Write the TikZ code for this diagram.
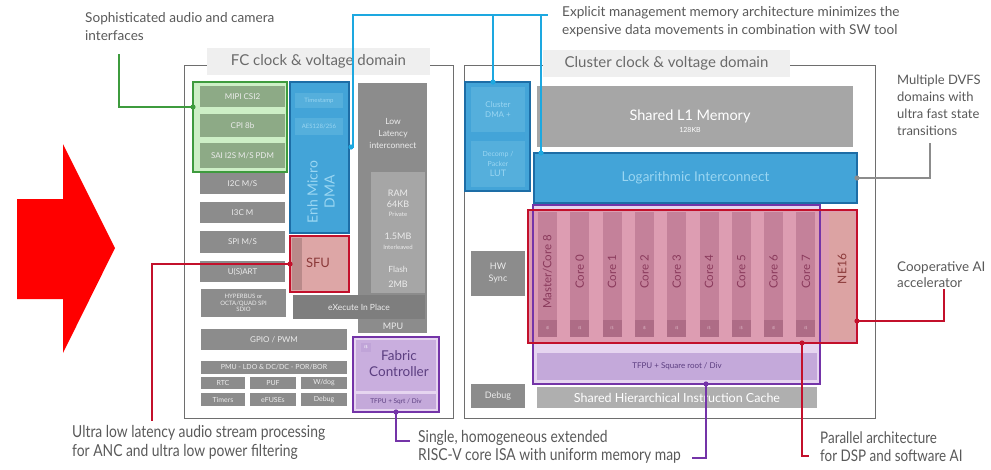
\documentclass[tikz,border=0pt]{standalone}
\usepackage{fontspec}
\setmainfont{Lato}
\newfontfamily\narrowfont[FakeStretch=0.84]{Lato}
\usetikzlibrary{calc}
\usetikzlibrary{positioning}

\definecolor{arrowred}{HTML}{FF0000}
\definecolor{notegray}{HTML}{595959}
\definecolor{domgray}{HTML}{6E6E6E}
\definecolor{titlebg}{HTML}{EFEFEF}
\definecolor{titletext}{HTML}{6A6A6A}
\definecolor{blkgray}{HTML}{8C8C8C}
\definecolor{blkgraydk}{HTML}{7E7E7E}
\definecolor{blkgraylt}{HTML}{A6A6A6}
\definecolor{blktext}{HTML}{ECECEC}
\definecolor{perigreen}{HTML}{3E9B3E}
\definecolor{perigreenlt}{HTML}{CDEFC6}
\definecolor{perigreenblk}{HTML}{8DAA86}
\definecolor{dmablue}{HTML}{43A4D8}
\definecolor{dmabluedk}{HTML}{1D6DA6}
\definecolor{dmablueblk}{HTML}{55AFDC}
\definecolor{dmatext}{HTML}{9AD6F2}
\definecolor{linkblue}{HTML}{1DA8E0}
\definecolor{accred}{HTML}{C3102B}
\definecolor{accpink}{HTML}{DD9DB2}
\definecolor{corepink}{HTML}{C4819A}
\definecolor{corepinkdk}{HTML}{AE6C86}
\definecolor{ne16pink}{HTML}{DCA3A3}
\definecolor{coretext}{HTML}{8A3A5C}
\definecolor{fcpurple}{HTML}{7434A8}
\definecolor{fcpurplelt}{HTML}{E6D5F0}
\definecolor{fcpurplemd}{HTML}{C9AEDE}
\definecolor{fpubar}{HTML}{C4A9DA}
\definecolor{fctext}{HTML}{5B3E80}
\definecolor{sfupink}{HTML}{DDA6A6}
\definecolor{sfustrip}{HTML}{B98A8A}
\definecolor{sfutext}{HTML}{8B3A3A}

\begin{document}
\begin{tikzpicture}[x=1pt, y=-1pt,
    wh/.style 2 args={minimum width=#1, minimum height=#2},
    blk/.style={anchor=north west, inner sep=0pt, outer sep=0pt, align=center},
    gray blk/.style={blk, fill=blkgray, text=blktext, font=\fontsize{8}{9}\selectfont},
    small blk/.style={blk, fill=blkgray, text=blktext, font=\fontsize{7}{8}\selectfont},
    green blk/.style={blk, fill=perigreenblk, text=blktext, font=\fontsize{8}{9}\selectfont},
    dma blk/.style={blk, fill=dmablueblk, text=dmatext, font=\fontsize{6}{7}\selectfont},
    dom title/.style={blk, fill=titlebg, text=titletext, font=\fontsize{15}{16}\selectfont},
    memtxt/.style={text=blktext, inner sep=0pt, font=\fontsize{8.5}{9}\selectfont},
    core/.style={blk, fill=corepink},
    core lbl/.style={rotate=90, inner sep=0pt, text=coretext, font=\fontsize{11.5}{12}\selectfont},
    note/.style={anchor=north west, inner sep=0pt, align=left, text=notegray, font=\fontsize{13.6}{18}\selectfont},
    low note/.style={note, font=\narrowfont\fontsize{16.5}{19}\selectfont},
    link/.style={line width=1.6pt},
  ]
  \useasboundingbox (0,0) rectangle (991,469);

  % Big red arrow
  \fill[arrowred] (17,199) -- (63,199) -- (63,144) -- (115,248) -- (63,353) -- (63,299) -- (17,299) -- cycle;

  % Voltage domains
  \node[blk, draw=domgray, line width=1pt, wh={269}{353}] (fcdom) at (184,65) {};
  \node[dom title, wh={223}{27}] (fctitle) at (207,48) {FC clock \& voltage domain};
  \node[blk, draw=domgray, line width=1pt, wh={411}{353}] (cldom) at (464,65) {};
  \node[dom title, wh={247}{27}] (cltitle) at (543,50) {Cluster clock \& voltage domain};

  % Peripherals
  \node[blk, fill=perigreenlt, draw=perigreen, line width=1.5pt, wh={94}{90}] (periph) at (193,82) {};
  \node[green blk, wh={85}{21}] (mipi) at (200,86) {MIPI CSI2};
  \node[green blk, wh={85}{23}] (cpi) at (200,114) {CPI 8b};
  \node[green blk, wh={85}{25}] (sai) at (200,143) {SAI I2S M/S PDM};
  \node[gray blk, wh={85}{21}] (i2c) at (200,173) {I2C M/S};
  \node[gray blk, wh={85}{21}] (i3c) at (200,202) {I3C M};
  \node[gray blk, wh={85}{22}] (spi) at (200,231) {SPI M/S};
  \node[gray blk, wh={85}{21}] (uart) at (200,261) {U(S)ART};
  \node[gray blk, wh={85}{28}, font=\fontsize{6}{6.5}\selectfont] (hyper) at (201,289) {HYPERBUS or\\OCTA/QUAD SPI\\SDIO};
  \node[gray blk, wh={146}{21}] (gpio) at (201,329) {GPIO / PWM};
  \node[small blk, wh={146}{13}] (pmu) at (201,361) {PMU - LDO \& DC/DC - POR/BOR};
  \node[small blk, wh={44}{12}] (rtc) at (201,377) {RTC};
  \node[small blk, wh={46}{12}] (puf) at (250,377) {PUF};
  \node[small blk, wh={46}{12}] (wdog) at (301,377) {W/dog};
  \node[small blk, wh={44}{13}] (timers) at (201,393) {Timers};
  \node[small blk, wh={46}{13}] (efuse) at (250,393) {eFUSEs};
  \node[small blk, wh={46}{13}] (fcdebug) at (301,393) {Debug};

  % Micro DMA
  \node[blk, fill=dmablue, draw=dmabluedk, line width=1.5pt, wh={59}{151}] (dma) at (290,82) {};
  \node[dma blk, wh={48}{15}] (tstamp) at (295,93) {Timestamp};
  \node[dma blk, wh={48}{17}] (aes) at (295,118) {AES128/256};
  \node[rotate=90, align=center, inner sep=0pt, text=dmatext, font=\fontsize{14}{17}\selectfont] (dmalbl) at (321,192) {Enh Micro\\DMA};

  % SFU
  \node[blk, fill=sfupink, draw=accred, line width=1.5pt, wh={59}{56}] (sfu) at (290,236) {};
  \fill[sfustrip] (292,238) rectangle (302,290);
  \node[text=sfutext, inner sep=0pt, font=\fontsize{13}{14}\selectfont] (sfulbl) at (318,263) {SFU};

  % L2 memory and interconnect
  \node[gray blk, wh={69}{250}] (llint) at (358,83) {};
  \node[memtxt, align=center, font=\fontsize{8.5}{12}\selectfont] (llintlbl) at (393,133) {Low\\Latency\\interconnect};
  \node[blk, fill=blkgraylt, wh={54}{121}] (mem) at (371,172) {};
  \node[memtxt, font=\fontsize{9}{10}\selectfont] (ram) at (398,193) {RAM};
  \node[memtxt, font=\fontsize{9}{10}\selectfont] (ramsz) at (398,204) {64KB};
  \node[memtxt, font=\fontsize{6}{7}\selectfont] (ramprv) at (398,214) {Private};
  \node[memtxt, font=\fontsize{9}{10}\selectfont] (l2sz) at (398,236) {1.5MB};
  \node[memtxt, font=\fontsize{6}{7}\selectfont] (l2il) at (398,247) {Interleaved};
  \node[memtxt, font=\fontsize{8.5}{10}\selectfont] (flash) at (398,269) {Flash};
  \node[memtxt, font=\fontsize{9}{10}\selectfont] (flashsz) at (398,284) {2MB};
  \node[gray blk, fill=blkgraydk, wh={132}{24}, font=\fontsize{8.5}{9}\selectfont] (xip) at (293,295) {eXecute In Place};
  \node[memtxt, font=\fontsize{9}{10}\selectfont] (mpu) at (393,326) {MPU};

  % Fabric controller
  \node[blk, fill=fcpurplelt, draw=fcpurple, line width=1.5pt, wh={86}{75}] (fabric) at (353,337) {};
  \node[blk, fill=fcpurplemd, wh={80}{51}] (fccore) at (356,340) {};
  \node[blk, fill=fcpurple!45, text=white, wh={10}{9}, font=\fontsize{4}{4}\selectfont] (fcicache) at (361,343) {i\$};
  \node[text=fctext, inner sep=0pt, align=center, font=\fontsize{13.5}{16}\selectfont] (fclbl) at (399,364) {Fabric\\Controller};
  \node[blk, fill=fpubar, text=fctext, wh={80}{15}, font=\fontsize{6.5}{7}\selectfont] (fcfpu) at (356,394) {TFPU + Sqrt / Div};

  % Cluster DMA
  \node[blk, fill=dmablue, draw=dmabluedk, line width=1.5pt, wh={65}{109}] (cdma) at (465,82) {};
  \node[dma blk, wh={54}{45}, font=\fontsize{8}{9.5}\selectfont] (cdmablk) at (471,87) {Cluster\\DMA +};
  \node[dma blk, wh={54}{46}, font=\fontsize{7}{10}\selectfont] (packer) at (471,141) {Decomp /\\Packer\\{\fontsize{9}{10}\selectfont LUT}};

  % Shared L1 and interconnect
  \node[blk, fill=blkgraylt, text=white, wh={316}{61}] (l1) at (537,86) {};
  \node[text=white, inner sep=0pt, font=\fontsize{14.5}{15}\selectfont] (l1lbl) at (690,116) {Shared L1 Memory};
  \node[text=white, inner sep=0pt, font=\fontsize{7}{8}\selectfont] (l1sz) at (690,130) {128KB};
  \node[blk, fill=dmablue, draw=dmabluedk, line width=1.5pt, text=dmatext, wh={323}{50}, font=\fontsize{13.5}{15}\selectfont] (logint) at (534,153) {Logarithmic Interconnect};

  % Cores, FPU and accelerator
  \node[blk, fill=fcpurplelt, wh={287}{179}] (cfpu) at (533,205) {};
  \node[blk, fill=fpubar, text=fctext, wh={280}{27}, font=\fontsize{8}{9}\selectfont] (fpubar) at (537,353) {TFPU + Square root / Div};
  \node[blk, fill=accpink, wh={329}{133}] (cluster) at (528,210) {};
  \foreach \i/\lab in {0/{Master/Core 8},1/Core 0,2/Core 1,3/Core 2,4/Core 3,5/Core 4,6/Core 5,7/Core 6,8/Core 7}{
    \node[core, wh={19}{125}] (core\i) at ({538+32.3*\i},212) {};
    \node[blk, fill=corepinkdk, text=corepink!60, wh={19}{17}, font=\fontsize{4}{4}\selectfont] (icache\i) at ({538+32.3*\i},320) {i\$};
    \node[core lbl] (corelbl\i) at ({547.5+32.3*\i},272) {\lab};
  }
  \node[blk, fill=ne16pink, wh={26}{128}] (ne16) at (829,212) {};
  \node[core lbl, text=sfutext, font=\fontsize{12}{13}\selectfont] (ne16lbl) at (842,269) {NE16};
  \draw[fcpurple, line width=1.5pt] (cfpu.north west) rectangle (cfpu.south east);
  \draw[accred, line width=1.5pt] (cluster.north west) rectangle (cluster.south east);

  % Sync, debug and instruction cache
  \node[gray blk, wh={54}{45}, font=\fontsize{9}{12}\selectfont] (hwsync) at (471,251) {HW\\Sync};
  \node[gray blk, wh={54}{24}, font=\fontsize{9}{10}\selectfont] (cldebug) at (471,384) {Debug};
  \node[blk, fill=blkgraylt!90!white, text=white, wh={280}{21}, font=\fontsize{12.5}{13}\selectfont] (icache) at (537,387) {Shared Hierarchical Instruction Cache};

  % Annotations
  \node[note] (n-audio) at (85,12) {Sophisticated audio and camera\\interfaces};
  \node[note] (n-mem) at (562,6) {Explicit management memory architecture minimizes the\\expensive data movements in combination with SW tool};
  \node[note, font=\fontsize{13}{17}\selectfont] (n-dvfs) at (897,75) {Multiple DVFS\\domains with\\ultra fast state\\transitions};
  \node[note, font=\fontsize{13.4}{16.5}\selectfont] (n-ai) at (897,261) {Cooperative AI\\accelerator};
  \node[low note] (n-sfu) at (72,425) {Ultra low latency audio stream processing\\for ANC and ultra low power filtering};
  \node[low note, font=\narrowfont\fontsize{16.5}{18}\selectfont] (n-riscv) at (418,430) {Single, homogeneous extended\\RISC-V core ISA with uniform memory map};
  \node[low note, font=\narrowfont\fontsize{16}{18}\selectfont] (n-par) at (820,432) {Parallel architecture\\for DSP and software AI};

  % Connectors
  \coordinate (g-end) at (119,54);
  \draw[perigreen, link] (periph.west |- mipi.south) -| (g-end);
  \fill[perigreen] (periph.west |- mipi.south) circle (2.6);

  \coordinate (r-end) at (152,421);
  \draw[accred, link] (sfu.west) -| (r-end);
  \fill[accred] (sfu.west) circle (2.6);

  \coordinate (p-end) at (410,441);
  \draw[fcpurple, link] (fabric.south) |- (p-end);
  \fill[fcpurple] (fabric.south) circle (2.6);

  \coordinate (p2-tap) at ($(cfpu.south west)+(173,0)$);
  \coordinate (p2-end) at (692,458);
  \draw[fcpurple, link] (p2-tap) |- (p2-end);
  \fill[fcpurple] (p2-tap) circle (2.6);

  \coordinate (r2-tap) at ($(cluster.south west)+(274,0)$);
  \coordinate (r2-end) at (809,456);
  \draw[accred, link] (r2-tap) |- (r2-end);
  \fill[accred] (r2-tap) circle (2.6);

  \coordinate (r3-tap) at ($(cluster.south east)+(0,-22)$);
  \coordinate (r3-end) at (944,289);
  \draw[accred, link] (r3-tap) -| (r3-end);
  \fill[accred] (r3-tap) circle (2.6);

  \coordinate (d-end) at (930,143);
  \draw[blkgray, link] (logint.east) -| (d-end);
  \fill[blkgray] (logint.east) circle (2.6);

  \coordinate (b-end) at (548,15);
  \coordinate (dma-tap) at ($(dma.north east)+(2,65)$);
  \coordinate (cdma-tap) at ($(cdma.north west)+(28,0)$);
  \coordinate (li-tap) at ($(logint.north west)+(7,0)$);
  \draw[linkblue, link] (dma-tap) -| ++(2,-132) -- (b-end);
  \draw[linkblue, link] (cdma-tap) -- (cdma-tap |- b-end);
  \draw[linkblue, link] (li-tap) -- (li-tap |- b-end);
  \foreach \t in {dma-tap, cdma-tap, li-tap}
    \fill[linkblue] (\t) circle (2.6);
\end{tikzpicture}
\end{document}
